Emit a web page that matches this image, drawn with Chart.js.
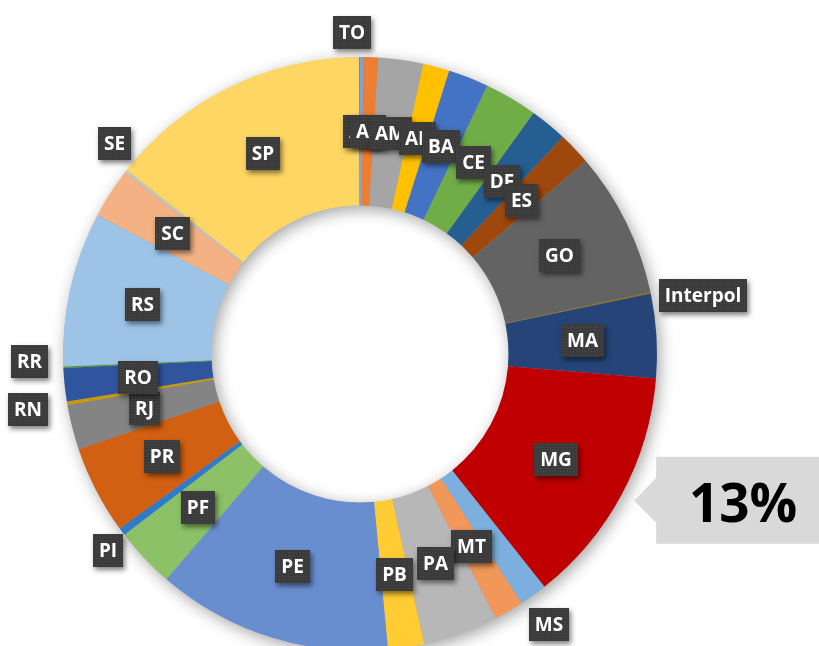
<!DOCTYPE html>
<html>
<head>
<meta charset="utf-8">
<script src="https://cdn.jsdelivr.net/npm/chart.js@4.4.1/dist/chart.umd.min.js"></script>
<style>
  html, body { margin: 0; padding: 0; overflow: hidden; background: #ffffff; }
  #wrap { position: relative; width: 819px; height: 700px; }
</style>
</head>
<body>
<div id="wrap"><canvas id="c"></canvas></div>
<script>
// ---- data (share of total in %) ----
const categories = ['AC','AL','AM','AP','BA','CE','DF','ES','GO','Interpol','MA','MG','MS','MT','PA','PB','PE','PF','PI','PR','RJ','RN','RO','RR','RS','SC','SE','SP','TO'];
const shares = [0.18, 0.80, 2.44, 1.44, 2.19, 2.89, 2.03, 1.78, 7.92, 0.06, 4.58, 13.03, 1.50, 1.61, 4.08, 1.97, 12.80, 3.28, 0.42, 4.81, 2.44, 0.19, 1.81, 0.08, 8.42, 2.69, 0.17, 14.36, 0.03];
const highlighted = 'MG';

// ---- styling ----
const sliceColors = ['#7FA3D8','#ED7D31','#A5A5A5','#FFC000','#4472C4','#70AD47','#255E91','#9E480E','#636363','#997300','#264478','#C00000','#7CAFDD','#F1975A','#B7B7B7','#FFCD33','#698ED0','#8CC168','#2F7BC9','#D26012','#848484','#CC9A00','#2F559F','#5A9A3A','#9DC3E6','#F4B183','#C4C4C4','#FDD664','#7F6000'];
// labels placed outside the ring: [angle nudge in degrees, gap from ring in px]
const outsideLabels = { TO: [-1.4, 7.5], Interpol: [2.2, 5], MS: [0.7, 8], PI: [-1.1, 0.5], RN: [0, 17.5], RR: [1.3, 15], SE: [2.8, 3.3] };
const labelFont = 'bold 19px "Open Sans", "Noto Sans", sans-serif';
const calloutFont = 'bold 53px "Open Sans", "Noto Sans", sans-serif';

function makePattern(ctx) {
  const p = document.createElement('canvas');
  p.width = 3; p.height = 3;
  const g = p.getContext('2d');
  g.fillStyle = '#3b3b3b'; g.fillRect(0, 0, 3, 3);
  g.fillStyle = '#4a4a4a'; g.fillRect(0, 0, 1, 1);
  return ctx.createPattern(p, 'repeat');
}

const ringShadow = {
  id: 'ringShadow',
  beforeDatasetsDraw(chart) {
    const arc = chart.getDatasetMeta(0).data[0];
    if (!arc) return;
    const p = arc.getProps(['x','y','outerRadius','innerRadius'], true);
    const ctx = chart.ctx;
    ctx.save();
    ctx.beginPath();
    ctx.arc(p.x, p.y, p.outerRadius - 0.5, 0, Math.PI * 2);
    ctx.arc(p.x, p.y, p.innerRadius + 0.5, Math.PI * 2, 0, true);
    ctx.closePath();
    ctx.shadowColor = 'rgba(0,0,0,0.38)';
    ctx.shadowBlur = 16;
    ctx.shadowOffsetX = 3;
    ctx.shadowOffsetY = 4;
    ctx.fillStyle = '#999999';
    ctx.fill();
    ctx.restore();
  }
};

const boxLabels = {
  id: 'boxLabels',
  afterDatasetsDraw(chart) {
    const ctx = chart.ctx;
    const meta = chart.getDatasetMeta(0);
    const pattern = makePattern(ctx);
    ctx.save();
    ctx.font = labelFont;
    const padX = 6, boxH = 33, capH = 13.6;
    meta.data.forEach((arc, i) => {
      const p = arc.getProps(['x','y','startAngle','endAngle','innerRadius','outerRadius'], true);
      const name = categories[i];
      const w = Math.round(ctx.measureText(name).width + 2 * padX);
      const h = boxH;
      let mid = (p.startAngle + p.endAngle) / 2;
      let cx, cy;
      const out = outsideLabels[name];
      if (out) {
        mid += out[0] * Math.PI / 180;
        const ux = Math.cos(mid), uy = Math.sin(mid);
        const sup = Math.abs(ux) * w / 2 + Math.abs(uy) * h / 2;
        const d = p.outerRadius + out[1] + sup;
        cx = p.x + ux * d; cy = p.y + uy * d;
      } else {
        const d = (p.innerRadius + p.outerRadius) / 2;
        cx = p.x + Math.cos(mid) * d; cy = p.y + Math.sin(mid) * d;
      }
      const bx = Math.round(cx - w / 2), by = Math.round(cy - h / 2);
      ctx.save();
      ctx.shadowColor = 'rgba(0,0,0,0.5)';
      ctx.shadowBlur = 5;
      ctx.shadowOffsetX = 2;
      ctx.shadowOffsetY = 3;
      ctx.fillStyle = '#3b3b3b';
      ctx.fillRect(bx, by, w, h);
      ctx.restore();
      ctx.fillStyle = pattern;
      ctx.fillRect(bx, by, w, h);
      ctx.fillStyle = '#ffffff';
      ctx.textAlign = 'center';
      ctx.textBaseline = 'alphabetic';
      ctx.fillText(name, bx + w / 2, by + h / 2 + capH / 2);
    });
    ctx.restore();
  }
};

const callout = {
  id: 'callout',
  afterDraw(chart) {
    const idx = categories.indexOf(highlighted);
    const arc = chart.getDatasetMeta(0).data[idx];
    if (!arc) return;
    const p = arc.getProps(['x','y','startAngle','endAngle','outerRadius'], true);
    const total = shares.reduce((a, b) => a + b, 0);
    const pct = Math.round(shares[idx] / total * 100) + '%';
    const mid = (p.startAngle + p.endAngle) / 2;
    const tx = p.x + Math.cos(mid) * (p.outerRadius + 14);
    const ty = p.y + Math.sin(mid) * (p.outerRadius + 14);
    const left = tx + 22, top = ty - 44, bottom = ty + 43, right = left + 200;
    const ctx = chart.ctx;
    ctx.save();
    ctx.fillStyle = '#d9d9d9';
    ctx.beginPath();
    ctx.moveTo(tx, ty);
    ctx.lineTo(left, ty - 23);
    ctx.lineTo(left, top);
    ctx.lineTo(right, top);
    ctx.lineTo(right, bottom);
    ctx.lineTo(left, bottom);
    ctx.lineTo(left, ty + 22);
    ctx.closePath();
    ctx.fill();
    ctx.fillStyle = '#000000';
    ctx.font = calloutFont;
    ctx.textAlign = 'center';
    ctx.textBaseline = 'alphabetic';
    ctx.fillText(pct, left + 87, ty + 21);
    ctx.restore();
  }
};

new Chart(document.getElementById('c'), {
  type: 'doughnut',
  data: {
    labels: categories,
    datasets: [{
      data: shares,
      backgroundColor: sliceColors,
      borderWidth: 0,
      hoverOffset: 0
    }]
  },
  options: {
    responsive: true,
    maintainAspectRatio: false,
    animation: false,
    cutout: '50%',
    layout: { padding: { left: 63, right: 162, top: 57, bottom: 49 } },
    plugins: { legend: { display: false }, tooltip: { enabled: false } },
    events: []
  },
  plugins: [ringShadow, boxLabels, callout]
});
</script>
</body>
</html>
